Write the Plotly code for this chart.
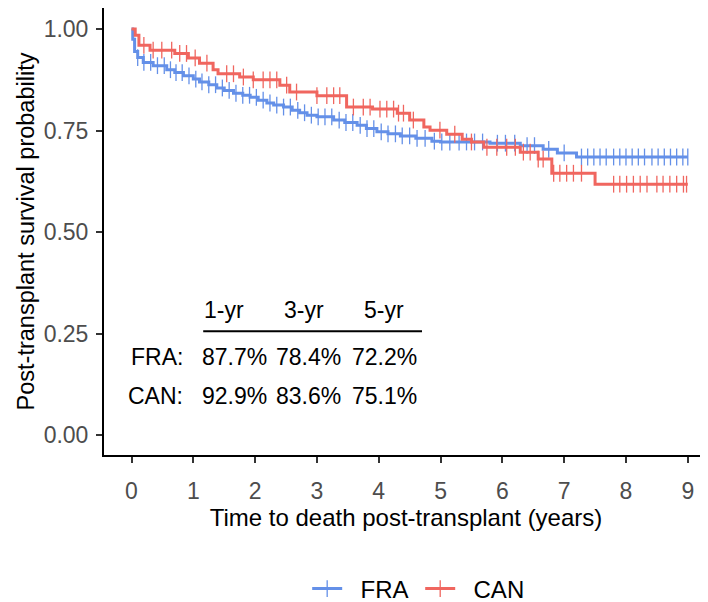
import plotly.graph_objects as go
import numpy as np

# ---- data ----
fra_time = [0, 0.02, 0.05, 0.1, 0.19, 0.35, 0.57, 0.7, 0.84, 1.0, 1.1, 1.25, 1.38, 1.5, 1.65, 1.8,
            1.92, 2.05, 2.19, 2.3, 2.46, 2.6, 2.72, 2.84, 3.0, 3.27, 3.45, 3.65, 3.8, 3.97, 4.15, 4.35,
            4.6, 4.86, 5.0, 5.8, 6.29, 6.66, 6.89, 7.2, 9.0]
fra_surv = [1.0, 0.975, 0.945, 0.93, 0.918, 0.91, 0.90, 0.893, 0.885, 0.877, 0.87, 0.863, 0.855, 0.849,
            0.842, 0.837, 0.832, 0.825, 0.818, 0.813, 0.808, 0.80, 0.794, 0.788, 0.784, 0.776, 0.77,
            0.763, 0.755, 0.747, 0.742, 0.737, 0.731, 0.724, 0.722, 0.719, 0.713, 0.704, 0.695, 0.685, 0.685]

can_time = [0, 0.06, 0.12, 0.3, 0.7, 0.92, 1.1, 1.32, 1.4, 1.75, 1.97, 2.4, 2.56, 3.0, 3.48, 3.9, 4.3,
            4.5, 4.73, 4.83, 5.1, 5.35, 5.5, 5.7, 6.29, 6.58, 6.8, 7.5, 9.0]
can_surv = [1.0, 0.985, 0.96, 0.948, 0.94, 0.929, 0.916, 0.90, 0.89, 0.882, 0.875, 0.862, 0.845, 0.836,
            0.808, 0.803, 0.793, 0.776, 0.759, 0.751, 0.741, 0.729, 0.722, 0.709, 0.697, 0.68, 0.645,
            0.618, 0.618]

fra_censor = [0.1, 0.2, 0.31, 0.42, 0.53, 0.63, 0.72, 0.82, 0.93, 1.04, 1.14, 1.25, 1.36, 1.47, 1.58,
              1.69, 1.8, 1.91, 2.02, 2.13, 2.24, 2.35, 2.46, 2.57, 2.69, 2.8, 2.91, 3.02, 3.13, 3.24,
              3.36, 3.47, 3.58, 3.7, 3.81, 3.92, 4.04, 4.15, 4.27, 4.38, 4.5, 4.62, 4.75, 4.9, 5.02,
              5.15, 5.3, 5.42, 5.55, 5.68, 5.92, 6.05, 6.2, 6.4, 6.52, 6.75, 7.0, 7.28, 7.38, 7.48,
              7.58, 7.68, 7.8, 7.9, 8.0, 8.1, 8.2, 8.3, 8.42, 8.52, 8.62, 8.72, 8.82, 8.92, 9.0]
can_censor = [0.2, 0.35, 0.49, 0.65, 0.78, 0.89, 1.03, 1.22, 1.54, 1.65, 1.81, 1.97, 2.13, 2.24, 2.35,
              2.51, 2.67, 3.0, 3.16, 3.27, 3.37, 3.59, 3.75, 3.86, 4.02, 4.13, 4.24, 4.32, 4.4, 4.56,
              4.99, 5.23, 5.5, 5.75, 5.91, 6.07, 6.21, 6.34, 6.45, 6.58, 6.66, 6.83, 6.93, 7.04, 7.15,
              7.28, 7.8, 7.9, 8.01, 8.12, 8.23, 8.34, 8.5, 8.6, 8.71, 8.82, 8.93, 8.98]

x_ticks = [0, 1, 2, 3, 4, 5, 6, 7, 8, 9]
y_ticks = [0.0, 0.25, 0.5, 0.75, 1.0]
y_ticklabels = ["0.00", "0.25", "0.50", "0.75", "1.00"]

table_cols = ["1-yr", "3-yr", "5-yr"]
table_rows = ["FRA:", "CAN:"]
table_vals = [["87.7%", "78.4%", "72.2%"], ["92.9%", "83.6%", "75.1%"]]

# ---- styling ----
FONT = "Liberation Sans, Arial, sans-serif"
BLUE = "#6490E8"
RED = "#F0665F"
NB = "\u00a0"


def step_at(times, surv, t):
    idx = np.searchsorted(np.array(times), t, side="right") - 1
    return surv[max(idx, 0)]


fig = go.Figure()
legend_names = {"FRA": NB * 2 + "FRA" + NB, "CAN": NB * 2 + "CAN"}
for name, times, surv, cens, col in [("FRA", fra_time, fra_surv, fra_censor, BLUE),
                                     ("CAN", can_time, can_surv, can_censor, RED)]:
    fig.add_trace(go.Scatter(x=times, y=surv, mode="lines", line=dict(color=col, width=3, shape="hv"),
                             showlegend=False, hoverinfo="skip"))
    fig.add_trace(go.Scatter(x=cens, y=[step_at(times, surv, t) for t in cens], mode="markers",
                             marker=dict(symbol="line-ns", size=12, line=dict(color=col, width=1.3)),
                             showlegend=False, hoverinfo="skip"))
    fig.add_trace(go.Scatter(x=[None], y=[None], mode="lines+markers", name=legend_names[name],
                             line=dict(color=col, width=3),
                             marker=dict(symbol="line-ns", size=12, line=dict(color=col, width=1.3))))

# table annotation
col_x = [1.5, 2.79, 4.09]
val_x = [1.67, 2.86, 4.1]
row_y = [0.192, 0.096]
for j, c in enumerate(table_cols):
    fig.add_annotation(x=col_x[j], y=0.308, text=c, showarrow=False, xanchor="center", yanchor="middle",
                       font=dict(family=FONT, size=23, color="black"))
fig.add_shape(type="line", x0=1.16, x1=4.70, y0=0.256, y1=0.256, line=dict(color="black", width=2))
for i, r in enumerate(table_rows):
    fig.add_annotation(x=0.87, y=row_y[i], text=r, showarrow=False, xanchor="right", yanchor="middle",
                       font=dict(family=FONT, size=23, color="black"))
    for j, v in enumerate(table_vals[i]):
        fig.add_annotation(x=val_x[j], y=row_y[i], text=v, showarrow=False, xanchor="center",
                           yanchor="middle", font=dict(family=FONT, size=23, color="black"))

# the page body has an 8px margin, so the figure is drawn 8px smaller and offset
fig.update_layout(
    width=700, height=594,
    margin=dict(l=96, r=0, t=0, b=147),
    plot_bgcolor="white", paper_bgcolor="white",
    font=dict(family=FONT, size=23, color="black"),
    legend=dict(orientation="h", xref="paper", x=0.521, xanchor="center",
                yref="container", y=1 - 581 / 594, yanchor="middle",
                font=dict(family=FONT, size=24, color="black"), itemwidth=30),
    xaxis=dict(range=[-0.445, 9.327], tickvals=x_ticks, showgrid=False, zeroline=False,
               showline=True, linecolor="black", linewidth=2, ticks="outside", ticklen=6,
               tickwidth=1.5, tickcolor="#333333", ticklabelstandoff=8,
               tickfont=dict(family=FONT, size=23, color="#4D4D4D"),
               title=dict(text="Time to death post-transplant (years)", standoff=0,
                          font=dict(family=FONT, size=24, color="black"))),
    yaxis=dict(range=[-0.049, 1.052], tickvals=y_ticks, ticktext=y_ticklabels, showgrid=False,
               zeroline=False, showline=True, linecolor="black", linewidth=2, ticks="outside",
               ticklen=6, tickwidth=1.5, tickcolor="#333333", ticklabelstandoff=3,
               tickfont=dict(family=FONT, size=23, color="#4D4D4D"),
               title=dict(text="Post-transplant survival probability", standoff=2,
                          font=dict(family=FONT, size=23.5, color="black"))),
)

fig.write_html("out.html")
